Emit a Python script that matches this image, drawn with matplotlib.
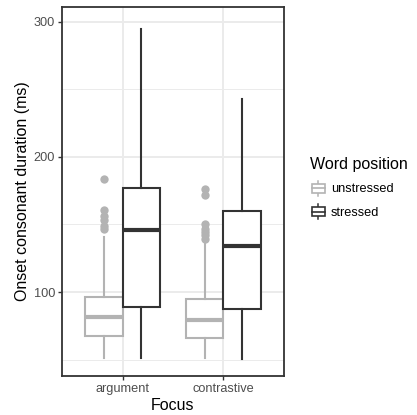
import matplotlib
matplotlib.use("Agg")
import matplotlib.pyplot as plt
from matplotlib.legend_handler import HandlerBase
from matplotlib.lines import Line2D
from matplotlib.patches import Rectangle

plt.rcParams["font.family"] = ["Liberation Sans", "DejaVu Sans"]

focus = ["argument", "contrastive"]
word_position = ["unstressed", "stressed"]
colors = {"unstressed": "#b3b3b3", "stressed": "#333333"}

# five-number summaries per focus condition (ms)
unstressed_whislo = [51, 51]
unstressed_q1 = [67.5, 66]
unstressed_med = [81.3, 79.3]
unstressed_q3 = [96.5, 94.8]
unstressed_whishi = [141, 137]
unstressed_fliers = [
    [146.5, 149, 153, 156.5, 161, 183.5],
    [139.5, 142, 144.5, 147, 150, 172, 176],
]

stressed_whislo = [51, 50.5]
stressed_q1 = [88.7, 87.2]
stressed_med = [145.9, 134.3]
stressed_q3 = [177.3, 160]
stressed_whishi = [294.6, 243.2]
stressed_fliers = [[], []]

summaries = {
    "unstressed": (unstressed_whislo, unstressed_q1, unstressed_med,
                   unstressed_q3, unstressed_whishi, unstressed_fliers),
    "stressed": (stressed_whislo, stressed_q1, stressed_med,
                 stressed_q3, stressed_whishi, stressed_fliers),
}

W, H = 417, 415
fig = plt.figure(figsize=(W / 100, H / 100), dpi=100)
ax = fig.add_axes([62 / W, 1 - 376 / H, (284 - 62) / W, (376 - 6.7) / H])

box_w = 0.375
offsets = {"unstressed": -box_w / 2, "stressed": box_w / 2}

for wp in word_position:
    lo, q1, med, q3, hi, fl = summaries[wp]
    stats = []
    for i in range(len(focus)):
        stats.append(dict(whislo=lo[i], q1=q1[i], med=med[i], q3=q3[i],
                          whishi=hi[i], fliers=fl[i]))
    c = colors[wp]
    ax.bxp(stats, positions=[i + 1 + offsets[wp] for i in range(len(focus))],
           widths=box_w, showcaps=False, patch_artist=True,
           boxprops=dict(facecolor="white", edgecolor=c, linewidth=1.5),
           whiskerprops=dict(color=c, linewidth=1.5),
           medianprops=dict(color=c, linewidth=3, solid_capstyle="butt"),
           flierprops=dict(marker="o", markersize=6, markerfacecolor=c,
                           markeredgecolor="none"),
           manage_ticks=False, zorder=3)

ax.set_xlim(0.4, 2.6)
ax.set_ylim(37.8, 311.3)
ax.set_xticks([1, 2])
ax.set_xticklabels(focus)
ax.set_yticks([100, 200, 300])
ax.set_yticks([50, 150, 250], minor=True)
ax.grid(True, which="major", color="#ebebeb", linewidth=1.4, zorder=0)
ax.grid(True, which="minor", axis="y", color="#ebebeb", linewidth=0.7, zorder=0)
ax.set_axisbelow(True)
ax.tick_params(which="major", length=3, width=1, color="#333333",
               labelcolor="#4d4d4d", labelsize=9.2, pad=2)
ax.tick_params(which="minor", length=0)
for s in ax.spines.values():
    s.set_color("#333333")
    s.set_linewidth(1.3)

ax.set_xlabel("Focus", fontsize=11.5, labelpad=2)
ax.set_ylabel("Onset consonant duration (ms)", fontsize=11.5, labelpad=2.5)


class BoxKey(HandlerBase):
    # ggplot-style boxplot key: whiskers, box and median line
    def create_artists(self, legend, orig_handle, xdescent, ydescent,
                       width, height, fontsize, trans):
        c = orig_handle.get_color()
        x0, y0 = -xdescent, -ydescent
        cx = x0 + width / 2
        cy = y0 + height / 2
        bw, bh = width * 0.75, height * 0.45
        arts = [
            Line2D([cx, cx], [y0 + height * 0.1, y0 + height * 0.9],
                   color=c, linewidth=1.1),
            Rectangle((cx - bw / 2, cy - bh / 2), bw, bh, facecolor="white",
                      edgecolor=c, linewidth=1.2),
            Line2D([cx - bw / 2, cx + bw / 2], [cy, cy], color=c, linewidth=1.2),
        ]
        for a in arts:
            a.set_transform(trans)
        return arts


handles = [Line2D([], [], color=colors[wp]) for wp in word_position]
leg = fig.legend(handles, word_position, handler_map={Line2D: BoxKey()},
                 title="Word position", loc="center left",
                 bbox_to_anchor=(310 / W, 1 - 189 / H), frameon=False,
                 fontsize=9.2, title_fontsize=11.5, handlelength=1.33,
                 handleheight=1.95, handletextpad=0.3, labelspacing=0.32,
                 borderpad=0, borderaxespad=0)
leg._legend_box.align = "left"
leg._legend_box.sep = 5

fig.savefig("out.png", dpi=100)
